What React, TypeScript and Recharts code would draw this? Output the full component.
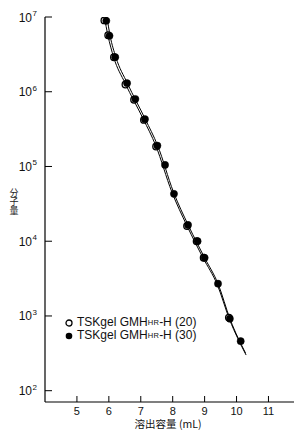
import React from "react";
import { ComposedChart, Line, Scatter, XAxis, YAxis } from "recharts";

const xTicks = [5, 6, 7, 8, 9, 10, 11];
const yTicks = [100, 1000, 10000, 100000, 1000000, 10000000];

const seriesNames = ["TSKgel GMH", "TSKgel GMH"];
const seriesSubs = ["HR", "HR"];
const seriesSuffix = ["-H (20)", "-H (30)"];

const points20 = [
  { x: 5.86, y: 9.0e6 },
  { x: 5.98, y: 5.7e6 },
  { x: 6.16, y: 2.9e6 },
  { x: 6.52, y: 1.25e6 },
  { x: 6.79, y: 7.8e5 },
  { x: 7.1, y: 4.2e5 },
  { x: 7.48, y: 1.85e5 },
  { x: 8.45, y: 1.6e4 },
  { x: 8.75, y: 1.0e4 },
  { x: 8.97, y: 6.0e3 },
  { x: 9.76, y: 9.5e2 },
];

const points30 = [
  { x: 5.92, y: 8.9e6 },
  { x: 6.02, y: 5.6e6 },
  { x: 6.2, y: 2.9e6 },
  { x: 6.57, y: 1.3e6 },
  { x: 6.83, y: 8.0e5 },
  { x: 7.13, y: 4.3e5 },
  { x: 7.52, y: 1.9e5 },
  { x: 7.76, y: 1.05e5 },
  { x: 8.04, y: 4.3e4 },
  { x: 8.48, y: 1.65e4 },
  { x: 8.78, y: 1.0e4 },
  { x: 9.0, y: 6.0e3 },
  { x: 9.42, y: 2.7e3 },
  { x: 9.79, y: 9.2e2 },
  { x: 10.13, y: 4.6e2 },
];

const curve20 = [
  { x: 5.86, y: 1e7 },
  { x: 5.97, y: 5.7e6 },
  { x: 6.15, y: 2.9e6 },
  { x: 6.51, y: 1.3e6 },
  { x: 7.08, y: 4.3e5 },
  { x: 7.47, y: 1.9e5 },
  { x: 7.97, y: 4.6e4 },
  { x: 8.45, y: 1.6e4 },
  { x: 8.95, y: 6.0e3 },
  { x: 9.4, y: 2.6e3 },
  { x: 9.78, y: 9.0e2 },
  { x: 10.3, y: 3.0e2 },
];

const curve30 = [
  { x: 5.94, y: 1e7 },
  { x: 6.04, y: 5.6e6 },
  { x: 6.22, y: 2.9e6 },
  { x: 6.58, y: 1.3e6 },
  { x: 7.14, y: 4.3e5 },
  { x: 7.53, y: 1.9e5 },
  { x: 8.02, y: 4.6e4 },
  { x: 8.5, y: 1.6e4 },
  { x: 9.0, y: 6.0e3 },
  { x: 9.42, y: 2.7e3 },
  { x: 9.8, y: 9.0e2 },
  { x: 10.28, y: 3.2e2 },
];

const FONT = "'Liberation Sans', Arial, sans-serif";
const CJK = "'Noto Sans CJK JP', sans-serif";

const YTick = (props: any) => {
  const { x, y, payload } = props;
  const exp = Math.round(Math.log10(payload.value));
  return (
    <g>
      <line x1={x} y1={y} x2={x + 7} y2={y} stroke="#000" strokeWidth={1} />
      <text x={x - 13} y={y + 4.5} textAnchor="end" fontSize={12} fontFamily={FONT} fill="#111">
        10
      </text>
      <text x={x - 12.5} y={y - 1} textAnchor="start" fontSize={8} fontFamily={FONT} fill="#111">
        {exp}
      </text>
    </g>
  );
};

const XTick = (props: any) => {
  const { x, y, payload } = props;
  return (
    <g>
      <line x1={x} y1={y} x2={x} y2={y - 6} stroke="#000" strokeWidth={1} />
      <text x={x} y={y + 12.5} textAnchor="middle" fontSize={11} fontFamily={FONT} fill="#111">
        {payload.value}
      </text>
    </g>
  );
};

const OpenDot = (props: any) => {
  const { cx, cy } = props;
  return <circle cx={cx} cy={cy} r={3.3} fill="#fff" stroke="#000" strokeWidth={1.3} />;
};
const FilledDot = (props: any) => {
  const { cx, cy } = props;
  return <circle cx={cx} cy={cy} r={3.6} fill="#000" stroke="#000" strokeWidth={0.5} />;
};

const LegendBox = () => (
  <div
    style={{
      position: "absolute",
      left: 64,
      top: 316,
      fontFamily: FONT,
      fontSize: 12,
      color: "#111",
      lineHeight: "13px",
      whiteSpace: "nowrap",
    }}
  >
    {seriesNames.map((n, i) => (
      <div key={i} style={{ display: "flex", alignItems: "center", height: 13 }}>
        <svg width={10} height={10} style={{ marginRight: 3 }}>
          {i === 0 ? (
            <circle cx={5} cy={5} r={3} fill="#fff" stroke="#000" strokeWidth={1.3} />
          ) : (
            <circle cx={5} cy={5} r={3.3} fill="#000" />
          )}
        </svg>
        <span>{n}</span>
        <span style={{ fontSize: 7.5, letterSpacing: 0.3 }}>{seriesSubs[i]}</span>
        <span>{seriesSuffix[i]}</span>
      </div>
    ))}
  </div>
);

export default function App() {
  return (
    <div style={{ position: "absolute", left: 0, top: 0, width: 294, height: 430, background: "#fff" }}>
      <ComposedChart width={294} height={430} margin={{ top: 17, right: 0, bottom: 0, left: 0 }}>
        <XAxis
          xAxisId="top"
          orientation="top"
          type="number"
          dataKey="x"
          domain={[4, 11.8]}
          tick={false}
          tickLine={false}
          height={0}
          axisLine={{ stroke: "#222", strokeWidth: 1.2 }}
        />
        <XAxis
          type="number"
          dataKey="x"
          domain={[4, 11.8]}
          ticks={xTicks}
          allowDataOverflow
          height={28}
          tickSize={0}
          tickMargin={0}
          tickLine={false}
          tick={<XTick />}
          axisLine={{ stroke: "#000", strokeWidth: 1.2 }}
          label={() => (
            <text x={168} y={427.5} textAnchor="middle" fontFamily={CJK} fontSize={10.5} fill="#111">
              溶出容量 (mL)
            </text>
          )}
        />
        <YAxis
          type="number"
          dataKey="y"
          scale="log"
          domain={[70.6, 1e7]}
          ticks={yTicks}
          allowDataOverflow
          width={45}
          tickSize={0}
          tickMargin={0}
          tickLine={false}
          tick={<YTick />}
          axisLine={{ stroke: "#000", strokeWidth: 1.2 }}
          label={() => (
            <text
              x={14}
              y={188}
              fontFamily={CJK}
              fontSize={9}
              fill="#222"
              style={{ writingMode: "vertical-rl" as any }}
            >
              分子量
            </text>
          )}
        />
        <Line data={curve20} dataKey="y" type="monotone" stroke="#000" strokeWidth={1} dot={false} isAnimationActive={false} />
        <Line data={curve30} dataKey="y" type="monotone" stroke="#000" strokeWidth={1} dot={false} isAnimationActive={false} />
        <Scatter data={points20} dataKey="y" shape={<OpenDot />} isAnimationActive={false} />
        <Scatter data={points30} dataKey="y" shape={<FilledDot />} isAnimationActive={false} />
      </ComposedChart>
      <LegendBox />
    </div>
  );
}
